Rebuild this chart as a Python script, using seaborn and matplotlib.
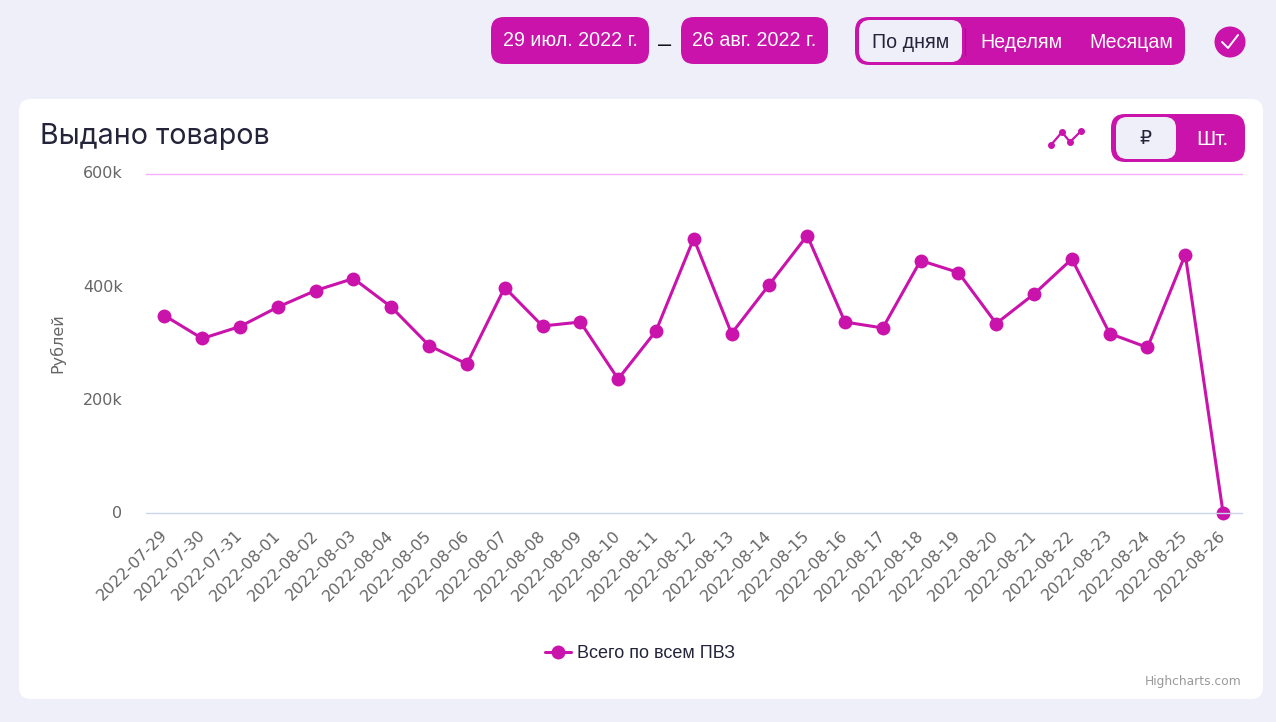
import pandas as pd
import matplotlib
matplotlib.use('Agg')
import matplotlib.pyplot as plt
from matplotlib.patches import FancyBboxPatch, Circle
from matplotlib.transforms import ScaledTranslation
import seaborn as sns

# Data
dates = ['2022-07-29', '2022-07-30', '2022-07-31', '2022-08-01', '2022-08-02', '2022-08-03',
         '2022-08-04', '2022-08-05', '2022-08-06', '2022-08-07', '2022-08-08', '2022-08-09',
         '2022-08-10', '2022-08-11', '2022-08-12', '2022-08-13', '2022-08-14', '2022-08-15',
         '2022-08-16', '2022-08-17', '2022-08-18', '2022-08-19', '2022-08-20', '2022-08-21',
         '2022-08-22', '2022-08-23', '2022-08-24', '2022-08-25', '2022-08-26']
values = [349000, 308400, 329600, 364000, 393200, 414400, 364000, 296000, 263300, 398500,
          330500, 337500, 236800, 321600, 485100, 317200, 403800, 490400, 337500, 327000,
          446200, 425000, 334900, 387000, 448900, 317200, 292500, 456800, 0]
y_ticks = [0, 200000, 400000, 600000]
y_tick_labels = ['0', '200k', '400k', '600k']
series_name = 'Всего по всем ПВЗ'

W, H = 1276, 722
BG = '#EEEFF8'
MAGENTA = '#C913AB'
DARK = '#23233A'
GREY = '#666666'

sns.set_theme(style='white')
plt.rcParams['font.family'] = ['DejaVu Sans']

fig = plt.figure(figsize=(W / 100, H / 100), dpi=100, facecolor=BG)

# Page furniture, in pixel coordinates
ui = fig.add_axes([0, 0, 1, 1])
ui.set_xlim(0, W)
ui.set_ylim(H, 0)
ui.axis('off')


def box(x0, y0, x1, y1, r, color):
    ui.add_patch(FancyBboxPatch((x0 + r, y0 + r), x1 - x0 - 2 * r, y1 - y0 - 2 * r,
                                boxstyle=f'round,pad={r},rounding_size={r}',
                                fc=color, ec='none'))


def label(x, y, s, color='white', size=14.1, family='Liberation Sans', **kw):
    ui.text(x, y, s, color=color, fontsize=size, family=family, ha='center', va='center', **kw)


box(19, 99, 1263, 699, 12, 'white')

box(491, 17, 649, 64, 13, MAGENTA)
box(681, 17, 828, 64, 13, MAGENTA)
label(570, 40.5, '29 июл. 2022 г.')
label(754.5, 40.5, '26 авг. 2022 г.')
label(665, 45.5, '–', color='#111122', size=17)

box(855, 17, 1185, 65, 14, MAGENTA)
box(859, 20, 962, 62, 11, BG)
ui.plot([965, 965], [28, 55], color='#A80F90', lw=0.8)
label(911, 42.5, 'По дням', color=DARK)
label(1021, 42.5, 'Неделям')
label(1131, 42.5, 'Месяцам')

ui.add_patch(Circle((1230, 42), 15.5, fc=MAGENTA, ec='none'))
ui.plot([1222, 1228, 1238], [42, 48, 35], color='white', lw=1.4)

ui.plot([1051, 1062, 1070, 1081], [145, 132, 142, 131], color=MAGENTA, lw=1.6,
        marker='o', ms=4)
box(1111, 114, 1245, 162, 14, MAGENTA)
box(1116, 117, 1176, 159, 11, BG)
label(1145, 138.5, '₽', color=DARK, family='DejaVu Sans', size=13.5)
label(1212, 139.5, 'Шт.', size=15)

ui.text(40, 136, 'Выдано товаров', color=DARK, fontsize=20.55, family='Inter', ha='left', va='center')
ui.text(1242, 681.5, 'Highcharts.com', color='#999999', fontsize=8.85, ha='right', va='center')

# Chart itself
df = pd.DataFrame({'date': dates, 'value': values})
ax = fig.add_axes([145.5 / W, 1 - 513 / H, 1096.5 / W, 339.5 / H])
ax.patch.set_alpha(0)
sns.lineplot(data=df, x='date', y='value', ax=ax, color=MAGENTA, linewidth=2.2, marker='o',
             markersize=10, markeredgewidth=0, sort=False, label=series_name, clip_on=False,
             errorbar=None)

ax.set_xlim(-0.5, len(dates) - 0.5)
ax.set_ylim(0, 600000)
ax.set_yticks(y_ticks, y_tick_labels)
ax.set_xlabel('')
ax.set_ylabel('Рублей', fontsize=11.5, color=GREY)
ax.yaxis.set_label_coords((65 - 145.5) / 1096.5, 0.5)
ax.grid(False)

for side in ['left', 'right']:
    ax.spines[side].set_visible(False)
ax.spines['top'].set_color('#F5B0FA')
ax.spines['top'].set_linewidth(1)
ax.spines['bottom'].set_color('#CCD6EB')
ax.spines['bottom'].set_linewidth(1)

ax.tick_params(axis='y', length=0, pad=16.5, labelsize=11.5, labelcolor=GREY)
ax.tick_params(axis='x', length=0, pad=10.5, labelsize=11.5, labelcolor=GREY)

# labels sit a little off the tick positions in the original
x_shift = ScaledTranslation(-5 / 100, 0, fig.dpi_scale_trans)
y_shift = ScaledTranslation(0, 1 / 100, fig.dpi_scale_trans)
for t in ax.get_xticklabels():
    t.set_rotation(45)
    t.set_ha('right')
    t.set_rotation_mode('anchor')
    t.set_transform(t.get_transform() + x_shift)
for t in ax.get_yticklabels():
    t.set_transform(t.get_transform() + y_shift)

leg = ax.legend(loc='center', bbox_to_anchor=(640 / W, 1 - 654 / H),
                bbox_transform=fig.transFigure, frameon=False, handlelength=1.44, handletextpad=0.33,
                prop={'family': 'Liberation Sans', 'size': 13})
for text in leg.get_texts():
    text.set_color(DARK)

fig.savefig('out.png', dpi=100, facecolor=BG)
